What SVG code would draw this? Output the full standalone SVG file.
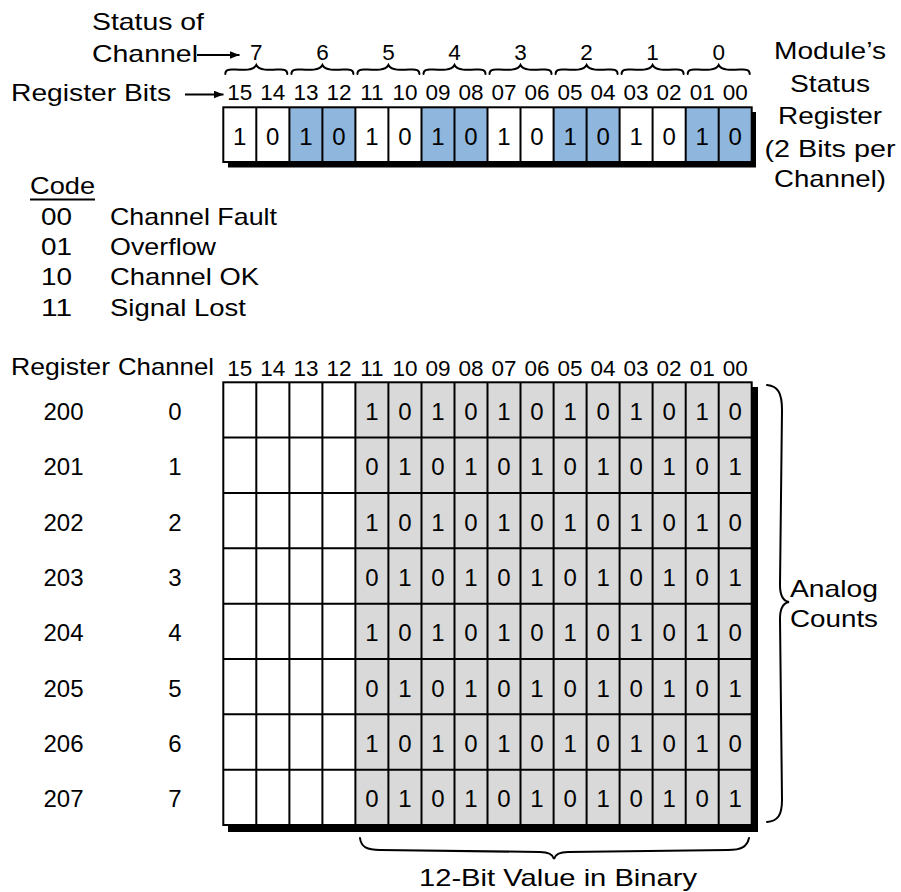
<svg xmlns="http://www.w3.org/2000/svg" xmlns:xlink="http://www.w3.org/1999/xlink" width="901" height="892" viewBox="0 0 901 892">
<style>
text{font-family:"Liberation Sans",Arial,Helvetica,sans-serif;fill:#000}
.lbl{font-size:24px}
.mid{text-anchor:middle}
.d{font-size:24px;text-anchor:middle}
.h{font-size:22.5px;text-anchor:middle}
.grid{stroke:#000;stroke-width:2;fill:none}
.br{stroke:#000;stroke-width:2;fill:none;stroke-linecap:round}
.ar{stroke:#000;stroke-width:2;fill:none}
.blue{fill:#8fb6dd}
.gray{fill:#d9d9d9}
.white{fill:#fff}
.shadow{fill:#000}
</style>
<defs>
<marker id="ah" markerUnits="userSpaceOnUse" markerWidth="10" markerHeight="8" refX="10" refY="4" orient="auto">
<path d="M0,0 L10,4 L0,8 z" fill="#000"/>
</marker>
<path id="brace" d="M2,9 C2,5 5,4 11,4.5 C19,5 30,6 33,0 C36,6 47,5 55,4.5 C61,4 64,5 64,9"/>
</defs>
<rect width="901" height="892" fill="#fff"/>

<g id="status-labels">
<text class="lbl" x="92" y="30" textLength="112" lengthAdjust="spacingAndGlyphs">Status of</text>
<text class="lbl" x="92" y="61.5" textLength="106" lengthAdjust="spacingAndGlyphs">Channel</text>
<text class="lbl" x="11" y="101" textLength="160" lengthAdjust="spacingAndGlyphs">Register Bits</text>
<text class="h" x="256.3" y="60">7</text>
<text class="h" x="322.4" y="60">6</text>
<text class="h" x="388.4" y="60">5</text>
<text class="h" x="454.5" y="60">4</text>
<text class="h" x="520.5" y="60">3</text>
<text class="h" x="586.6" y="60">2</text>
<text class="h" x="652.6" y="60">1</text>
<text class="h" x="718.7" y="60">0</text>
</g>

<g id="module-label">
<text class="lbl mid" x="830" y="59" textLength="112" lengthAdjust="spacingAndGlyphs">Module’s</text>
<text class="lbl mid" x="830" y="91.5" textLength="80" lengthAdjust="spacingAndGlyphs">Status</text>
<text class="lbl mid" x="830" y="123.5" textLength="104" lengthAdjust="spacingAndGlyphs">Register</text>
<text class="lbl mid" x="830" y="156.5" textLength="131" lengthAdjust="spacingAndGlyphs">(2 Bits per</text>
<text class="lbl mid" x="830" y="187" textLength="112" lengthAdjust="spacingAndGlyphs">Channel)</text>
</g>

<g id="status-register">
<g class="hdr">
<text class="h" x="239.8" y="100">15</text>
<text class="h" x="272.8" y="100">14</text>
<text class="h" x="305.9" y="100">13</text>
<text class="h" x="338.9" y="100">12</text>
<text class="h" x="371.9" y="100">11</text>
<text class="h" x="404.9" y="100">10</text>
<text class="h" x="438.0" y="100">09</text>
<text class="h" x="471.0" y="100">08</text>
<text class="h" x="504.0" y="100">07</text>
<text class="h" x="537.0" y="100">06</text>
<text class="h" x="570.1" y="100">05</text>
<text class="h" x="603.1" y="100">04</text>
<text class="h" x="636.1" y="100">03</text>
<text class="h" x="669.1" y="100">02</text>
<text class="h" x="702.2" y="100">01</text>
<text class="h" x="735.2" y="100">00</text>
</g>
<rect class="shadow" x="228" y="112" width="528" height="55.5"/>
<rect class="white" x="223.3" y="107.3" width="528.4" height="54.7"/>
<rect class="blue" x="289.4" y="107.3" width="66" height="54.7"/>
<rect class="blue" x="421.5" y="107.3" width="66" height="54.7"/>
<rect class="blue" x="553.6" y="107.3" width="66" height="54.7"/>
<rect class="blue" x="685.7" y="107.3" width="66" height="54.7"/>
<rect class="grid" x="223.3" y="107.3" width="528.4" height="54.7"/>
<path class="grid" d="M256.3,107.3V162 M289.4,107.3V162 M322.4,107.3V162 M355.4,107.3V162 M388.4,107.3V162 M421.5,107.3V162 M454.5,107.3V162 M487.5,107.3V162 M520.5,107.3V162 M553.6,107.3V162 M586.6,107.3V162 M619.6,107.3V162 M652.6,107.3V162 M685.7,107.3V162 M718.7,107.3V162"/>
<text class="d" x="239.8" y="144.5">1</text>
<text class="d" x="272.8" y="144.5">0</text>
<text class="d" x="305.9" y="144.5">1</text>
<text class="d" x="338.9" y="144.5">0</text>
<text class="d" x="371.9" y="144.5">1</text>
<text class="d" x="404.9" y="144.5">0</text>
<text class="d" x="438.0" y="144.5">1</text>
<text class="d" x="471.0" y="144.5">0</text>
<text class="d" x="504.0" y="144.5">1</text>
<text class="d" x="537.0" y="144.5">0</text>
<text class="d" x="570.1" y="144.5">1</text>
<text class="d" x="603.1" y="144.5">0</text>
<text class="d" x="636.1" y="144.5">1</text>
<text class="d" x="669.1" y="144.5">0</text>
<text class="d" x="702.2" y="144.5">1</text>
<text class="d" x="735.2" y="144.5">0</text>
</g>

<g id="legend">
<text class="lbl" x="30" y="194" textLength="65" lengthAdjust="spacingAndGlyphs">Code</text>
<line x1="30" y1="199.5" x2="95" y2="199.5" stroke="#000" stroke-width="1.8"/>
<text class="lbl" x="41" y="225" textLength="31" lengthAdjust="spacingAndGlyphs">00</text>
<text class="lbl" x="110" y="225" textLength="167" lengthAdjust="spacingAndGlyphs">Channel Fault</text>
<text class="lbl" x="41" y="255" textLength="31" lengthAdjust="spacingAndGlyphs">01</text>
<text class="lbl" x="110" y="255" textLength="106" lengthAdjust="spacingAndGlyphs">Overflow</text>
<text class="lbl" x="41" y="285" textLength="31" lengthAdjust="spacingAndGlyphs">10</text>
<text class="lbl" x="110" y="285" textLength="149" lengthAdjust="spacingAndGlyphs">Channel OK</text>
<text class="lbl" x="41" y="315.5" textLength="31" lengthAdjust="spacingAndGlyphs">11</text>
<text class="lbl" x="110" y="315.5" textLength="136" lengthAdjust="spacingAndGlyphs">Signal Lost</text>
</g>

<g id="data-table">
<text class="lbl" x="11" y="375" textLength="99" lengthAdjust="spacingAndGlyphs">Register</text>
<text class="lbl" x="118" y="375" textLength="96" lengthAdjust="spacingAndGlyphs">Channel</text>
<g class="hdr">
<text class="h" x="239.8" y="376">15</text>
<text class="h" x="272.8" y="376">14</text>
<text class="h" x="305.9" y="376">13</text>
<text class="h" x="338.9" y="376">12</text>
<text class="h" x="371.9" y="376">11</text>
<text class="h" x="404.9" y="376">10</text>
<text class="h" x="438.0" y="376">09</text>
<text class="h" x="471.0" y="376">08</text>
<text class="h" x="504.0" y="376">07</text>
<text class="h" x="537.0" y="376">06</text>
<text class="h" x="570.1" y="376">05</text>
<text class="h" x="603.1" y="376">04</text>
<text class="h" x="636.1" y="376">03</text>
<text class="h" x="669.1" y="376">02</text>
<text class="h" x="702.2" y="376">01</text>
<text class="h" x="735.2" y="376">00</text>
</g>
<g class="rowlabels">
<text class="d" x="63.5" y="420">200</text><text class="d" x="175" y="420">0</text>
<text class="d" x="63.5" y="475.3">201</text><text class="d" x="175" y="475.3">1</text>
<text class="d" x="63.5" y="530.6">202</text><text class="d" x="175" y="530.6">2</text>
<text class="d" x="63.5" y="586">203</text><text class="d" x="175" y="586">3</text>
<text class="d" x="63.5" y="641.3">204</text><text class="d" x="175" y="641.3">4</text>
<text class="d" x="63.5" y="696.7">205</text><text class="d" x="175" y="696.7">5</text>
<text class="d" x="63.5" y="752">206</text><text class="d" x="175" y="752">6</text>
<text class="d" x="63.5" y="807.3">207</text><text class="d" x="175" y="807.3">7</text>
</g>
<rect class="shadow" x="228" y="387" width="530" height="445"/>
<rect class="white" x="223.3" y="382.3" width="132.1" height="442.7"/>
<rect class="gray" x="355.4" y="382.3" width="396.3" height="442.7"/>
<rect class="grid" x="223.3" y="382.3" width="528.4" height="442.7"/>
<path class="grid" d="M256.3,382.3V825 M289.4,382.3V825 M322.4,382.3V825 M355.4,382.3V825 M388.4,382.3V825 M421.5,382.3V825 M454.5,382.3V825 M487.5,382.3V825 M520.5,382.3V825 M553.6,382.3V825 M586.6,382.3V825 M619.6,382.3V825 M652.6,382.3V825 M685.7,382.3V825 M718.7,382.3V825 M223.3,437.6H751.7 M223.3,493H751.7 M223.3,548.3H751.7 M223.3,603.7H751.7 M223.3,659H751.7 M223.3,714.3H751.7 M223.3,769.7H751.7"/>
<g class="row0">
<text class="d" x="371.9" y="420">1</text><text class="d" x="404.9" y="420">0</text><text class="d" x="438.0" y="420">1</text><text class="d" x="471.0" y="420">0</text><text class="d" x="504.0" y="420">1</text><text class="d" x="537.0" y="420">0</text><text class="d" x="570.1" y="420">1</text><text class="d" x="603.1" y="420">0</text><text class="d" x="636.1" y="420">1</text><text class="d" x="669.1" y="420">0</text><text class="d" x="702.2" y="420">1</text><text class="d" x="735.2" y="420">0</text>
</g>
<g class="row1">
<text class="d" x="371.9" y="475.3">0</text><text class="d" x="404.9" y="475.3">1</text><text class="d" x="438.0" y="475.3">0</text><text class="d" x="471.0" y="475.3">1</text><text class="d" x="504.0" y="475.3">0</text><text class="d" x="537.0" y="475.3">1</text><text class="d" x="570.1" y="475.3">0</text><text class="d" x="603.1" y="475.3">1</text><text class="d" x="636.1" y="475.3">0</text><text class="d" x="669.1" y="475.3">1</text><text class="d" x="702.2" y="475.3">0</text><text class="d" x="735.2" y="475.3">1</text>
</g>
<g class="row2">
<text class="d" x="371.9" y="530.6">1</text><text class="d" x="404.9" y="530.6">0</text><text class="d" x="438.0" y="530.6">1</text><text class="d" x="471.0" y="530.6">0</text><text class="d" x="504.0" y="530.6">1</text><text class="d" x="537.0" y="530.6">0</text><text class="d" x="570.1" y="530.6">1</text><text class="d" x="603.1" y="530.6">0</text><text class="d" x="636.1" y="530.6">1</text><text class="d" x="669.1" y="530.6">0</text><text class="d" x="702.2" y="530.6">1</text><text class="d" x="735.2" y="530.6">0</text>
</g>
<g class="row3">
<text class="d" x="371.9" y="586">0</text><text class="d" x="404.9" y="586">1</text><text class="d" x="438.0" y="586">0</text><text class="d" x="471.0" y="586">1</text><text class="d" x="504.0" y="586">0</text><text class="d" x="537.0" y="586">1</text><text class="d" x="570.1" y="586">0</text><text class="d" x="603.1" y="586">1</text><text class="d" x="636.1" y="586">0</text><text class="d" x="669.1" y="586">1</text><text class="d" x="702.2" y="586">0</text><text class="d" x="735.2" y="586">1</text>
</g>
<g class="row4">
<text class="d" x="371.9" y="641.3">1</text><text class="d" x="404.9" y="641.3">0</text><text class="d" x="438.0" y="641.3">1</text><text class="d" x="471.0" y="641.3">0</text><text class="d" x="504.0" y="641.3">1</text><text class="d" x="537.0" y="641.3">0</text><text class="d" x="570.1" y="641.3">1</text><text class="d" x="603.1" y="641.3">0</text><text class="d" x="636.1" y="641.3">1</text><text class="d" x="669.1" y="641.3">0</text><text class="d" x="702.2" y="641.3">1</text><text class="d" x="735.2" y="641.3">0</text>
</g>
<g class="row5">
<text class="d" x="371.9" y="696.7">0</text><text class="d" x="404.9" y="696.7">1</text><text class="d" x="438.0" y="696.7">0</text><text class="d" x="471.0" y="696.7">1</text><text class="d" x="504.0" y="696.7">0</text><text class="d" x="537.0" y="696.7">1</text><text class="d" x="570.1" y="696.7">0</text><text class="d" x="603.1" y="696.7">1</text><text class="d" x="636.1" y="696.7">0</text><text class="d" x="669.1" y="696.7">1</text><text class="d" x="702.2" y="696.7">0</text><text class="d" x="735.2" y="696.7">1</text>
</g>
<g class="row6">
<text class="d" x="371.9" y="752">1</text><text class="d" x="404.9" y="752">0</text><text class="d" x="438.0" y="752">1</text><text class="d" x="471.0" y="752">0</text><text class="d" x="504.0" y="752">1</text><text class="d" x="537.0" y="752">0</text><text class="d" x="570.1" y="752">1</text><text class="d" x="603.1" y="752">0</text><text class="d" x="636.1" y="752">1</text><text class="d" x="669.1" y="752">0</text><text class="d" x="702.2" y="752">1</text><text class="d" x="735.2" y="752">0</text>
</g>
<g class="row7">
<text class="d" x="371.9" y="807.3">0</text><text class="d" x="404.9" y="807.3">1</text><text class="d" x="438.0" y="807.3">0</text><text class="d" x="471.0" y="807.3">1</text><text class="d" x="504.0" y="807.3">0</text><text class="d" x="537.0" y="807.3">1</text><text class="d" x="570.1" y="807.3">0</text><text class="d" x="603.1" y="807.3">1</text><text class="d" x="636.1" y="807.3">0</text><text class="d" x="669.1" y="807.3">1</text><text class="d" x="702.2" y="807.3">0</text><text class="d" x="735.2" y="807.3">1</text>
</g>
</g>

<g id="analog-label">
<text class="lbl" x="790" y="597" textLength="88" lengthAdjust="spacingAndGlyphs">Analog</text>
<text class="lbl" x="790" y="627" textLength="88" lengthAdjust="spacingAndGlyphs">Counts</text>
</g>

<g id="binary-label">
<text class="lbl mid" x="558" y="886" textLength="278" lengthAdjust="spacingAndGlyphs">12-Bit Value in Binary</text>
</g>

<g id="connectors">
<line class="ar" x1="197" y1="55" x2="239.5" y2="55" marker-end="url(#ah)"/>
<line class="ar" x1="185" y1="94.5" x2="223.5" y2="94.5" marker-end="url(#ah)"/>
<g class="br">
<use xlink:href="#brace" href="#brace" x="223.3" y="65"/>
<use xlink:href="#brace" href="#brace" x="289.4" y="65"/>
<use xlink:href="#brace" href="#brace" x="355.4" y="65"/>
<use xlink:href="#brace" href="#brace" x="421.5" y="65"/>
<use xlink:href="#brace" href="#brace" x="487.5" y="65"/>
<use xlink:href="#brace" href="#brace" x="553.6" y="65"/>
<use xlink:href="#brace" href="#brace" x="619.6" y="65"/>
<use xlink:href="#brace" href="#brace" x="685.7" y="65"/>
</g>
<path class="br" d="M767,385 C778,386 782,393 782,410 L780,585 C780,596 783,601 789,602 C783,603 780,608 780,619 L782,800 C782,815 778,821 767,822"/>
<path class="br" d="M360,838 C361,847 367,850 380,850 L540,852 C548,852 553,855 554,859 C555,855 560,852 568,852 L728,850 C741,850 747,847 749,838"/>
</g>
</svg>
